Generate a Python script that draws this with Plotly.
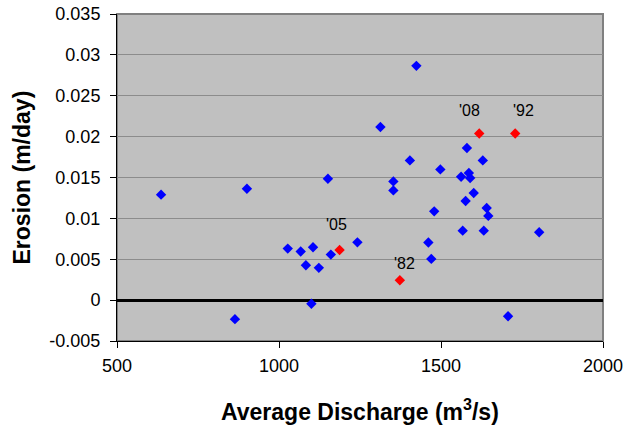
import plotly.graph_objects as go

# ---- data ----
blue_x = [636, 901, 864, 1027, 1067, 1105, 1083, 1123, 1160, 1242, 1100, 1151,
          1313, 1353, 1353, 1404, 1424, 1498, 1562, 1586, 1590, 1601, 1576, 1580,
          1629, 1641, 1646, 1567, 1632, 1803, 1479, 1461, 1470, 1707]
blue_y = [0.0129, 0.01363, -0.00233, 0.0063, 0.00594, 0.00646, 0.00426, 0.00395,
          0.00557, 0.00707, -0.00045, 0.01485, 0.02117, 0.01452, 0.01342, 0.01709,
          0.02866, 0.01599, 0.01509, 0.01555, 0.01494, 0.01311, 0.01213, 0.0186,
          0.01709, 0.01127, 0.0103, 0.0085, 0.0085, 0.0083, 0.01086, 0.00704,
          0.00504, -0.00197]

red_x = [1187, 1373, 1618, 1729]
red_y = [0.00614, 0.00243, 0.02039, 0.02039]
red_labels = ["'05", "'82", "'08", "'92"]

x_tick_vals = [500, 1000, 1500, 2000]
x_tick_text = ["500", "1000", "1500", "2000"]
y_tick_vals = [-0.005, 0, 0.005, 0.01, 0.015, 0.02, 0.025, 0.03, 0.035]
y_tick_text = ["-0.005", "0", "0.005", "0.01", "0.015", "0.02", "0.025", "0.03", "0.035"]

# label offsets (styling only)
label_xshift = [-3, 5, -10, 8]
label_yshift = [25, 17, 23, 23]

FONT = "Liberation Sans, Arial, sans-serif"

fig = go.Figure()
fig.add_trace(go.Scatter(
    x=blue_x, y=blue_y, mode="markers",
    marker=dict(symbol="diamond", size=8, color="#0000FF", line=dict(width=0)),
    showlegend=False, hoverinfo="skip"))
fig.add_trace(go.Scatter(
    x=red_x, y=red_y, mode="markers",
    marker=dict(symbol="diamond", size=8, color="#FF0000", line=dict(width=0)),
    showlegend=False, hoverinfo="skip"))

annotations = []
for x, y, t, dx, dy in zip(red_x, red_y, red_labels, label_xshift, label_yshift):
    annotations.append(dict(x=x, y=y, xref="x", yref="y", text=t, showarrow=False,
                            xshift=dx, yshift=dy, xanchor="center", yanchor="middle",
                            font=dict(family=FONT, size=16, color="black")))

annotations.append(dict(xref="paper", yref="paper", x=0.5, y=0, yshift=-69,
                        xanchor="center", yanchor="middle", showarrow=False,
                        text="<b>Average Discharge (m<sup>3</sup>/s)</b>",
                        font=dict(family=FONT, size=23, color="black")))
annotations.append(dict(xref="paper", yref="paper", x=0, y=0.5, xshift=-96,
                        xanchor="center", yanchor="middle", showarrow=False,
                        textangle=-90, text="<b>Erosion (m/day)</b>",
                        font=dict(family=FONT, size=23, color="black")))

fig.update_layout(
    template="none",
    width=626, height=435,
    margin=dict(l=117, r=23, t=14, b=94, pad=0),
    paper_bgcolor="white", plot_bgcolor="#C0C0C0",
    font=dict(family=FONT, size=18, color="black"),
    annotations=annotations,
    shapes=[dict(type="rect", xref="paper", yref="paper", x0=0, y0=0, x1=1, y1=1,
                 line=dict(color="#808080", width=2), layer="below")],
)
fig.update_xaxes(
    range=[500, 2000], tickvals=x_tick_vals, ticktext=x_tick_text, automargin=False,
    showgrid=False, zeroline=False, showline=True, linecolor="black", linewidth=1,
    ticks="outside", ticklen=6, tickcolor="black", tickwidth=1,
    tickfont=dict(family=FONT, size=18, color="black"), ticklabelstandoff=2)
fig.update_yaxes(
    range=[-0.005, 0.035], tickvals=y_tick_vals, ticktext=y_tick_text, automargin=False,
    showgrid=True, gridcolor="#8C8C8C", gridwidth=1,
    zeroline=True, zerolinecolor="black", zerolinewidth=3,
    showline=True, linecolor="black", linewidth=1,
    ticks="outside", ticklen=6, tickcolor="black", tickwidth=1,
    tickfont=dict(family=FONT, size=18, color="black"), ticklabelstandoff=6)

fig.write_html("out.html")
